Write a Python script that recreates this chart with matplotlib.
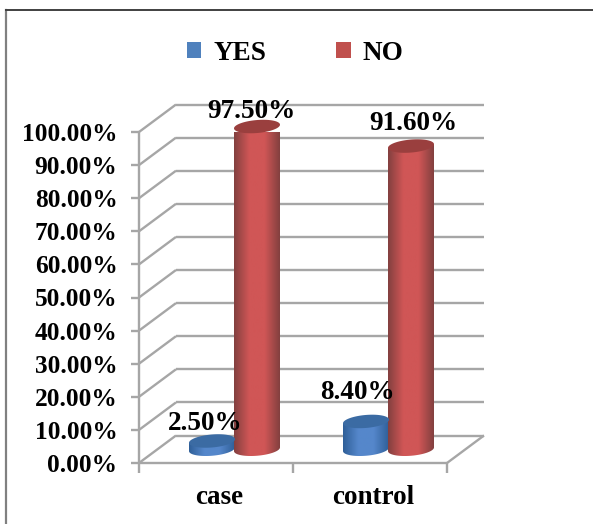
import matplotlib
matplotlib.use("Agg")
import matplotlib.pyplot as plt
from matplotlib.patches import Patch, PathPatch
from matplotlib.lines import Line2D
from matplotlib.path import Path
import matplotlib.colors as mcolors
import numpy as np

plt.rcParams["font.family"] = ["Liberation Serif", "DejaVu Serif"]
plt.rcParams["font.weight"] = "bold"

categories = ["case", "control"]
series_names = ["YES", "NO"]
yes_values = [2.5, 8.4]
no_values = [97.5, 91.6]
value_ticks = np.arange(0, 101, 10)

W, H = 593, 524
fig = plt.figure(figsize=(W / 100, H / 100), dpi=100, facecolor="white")

# axes box is the front face of the 3d-looking plot
ax = fig.add_axes([139 / W, (H - 463) / H, 308 / W, 331 / H])
ax.set_xlim(0, 2)
ax.set_ylim(0, 100)
ax.set_facecolor("none")
for s in ax.spines.values():
    s.set_visible(False)

GREY = "#a6a6a6"
# depth of the box and size of the cylinders, in data units
x_per_px = 2 / 308
y_per_px = 100 / 331
depth_x = 37 * x_per_px
depth_y = 27.5 * y_per_px
rx = 23 * x_per_px
ry = 6.5 * y_per_px
shear = 0.08 * (y_per_px / x_per_px)
bar_shift = 22.5 * x_per_px


def grid_line(xs, ys, lw=1.7):
    ax.plot(xs, ys, color=GREY, lw=lw, clip_on=False, solid_capstyle="butt", zorder=1)


# back wall and side wall lines
for v in value_ticks:
    grid_line([depth_x, 2 + depth_x], [v + depth_y, v + depth_y])
    grid_line([0, depth_x], [v, v + depth_y])

# floor and axis lines
grid_line([0, 2], [0, 0])
grid_line([2, 2 + depth_x], [0, depth_y])
grid_line([0, 0], [0, 100])

ax.set_xticks([0, 1, 2])
ax.set_xticklabels([])
ax.set_yticks(value_ticks)
ax.set_yticklabels([f"{v:.2f}%" for v in value_ticks], fontsize=18.3, fontweight="bold")
ax.tick_params(axis="y", length=6, width=1.7, color=GREY, pad=9.5)
ax.tick_params(axis="x", length=7, width=1.7, color=GREY)

for i, name in enumerate(categories):
    ax.annotate(name, (i + 0.5, 0), xytext=(2, -25), textcoords="offset points",
                ha="center", va="center", fontsize=19.5, fontweight="bold",
                annotation_clip=False)


def cylinder(cx, base, value, edge, mid, top):
    cmap = mcolors.LinearSegmentedColormap.from_list(
        "c", [edge, mid, mid, edge], N=128)
    t = np.linspace(0, np.pi, 60)
    top_y = base + value
    # outline of the body: front of the base ellipse, then back up to the top
    bx = cx - rx * np.cos(t)
    by = base - ry * np.sin(t) + shear * (bx - cx)
    ux = bx[::-1]
    uy = top_y + shear * (ux - cx)
    verts = np.column_stack([np.r_[bx, ux], np.r_[by, uy]])
    body = PathPatch(Path(np.vstack([verts, verts[0]])), fc="none", ec="none",
                     transform=ax.transData)
    ax.add_patch(body)
    body.set_clip_on(False)
    grad = np.linspace(0, 1, 128).reshape(1, -1)
    im = ax.imshow(grad, extent=[cx - rx, cx + rx, base - 2 * ry, top_y + 2 * ry],
                   cmap=cmap, aspect="auto", zorder=3, interpolation="bilinear")
    im.set_clip_path(body)
    # top ellipse
    t2 = np.linspace(0, 2 * np.pi, 100)
    ex = cx + rx * np.cos(t2)
    ey = top_y + ry * np.sin(t2) + shear * (ex - cx)
    ax.fill(ex, ey, color=top, zorder=4, clip_on=False, lw=0)


BLUE = ("#2f5f98", "#5587cb", "#3b6ba3")
RED = ("#83403f", "#d05656", "#9a3f3e")
floor_y = depth_y / 2
for i in range(len(categories)):
    centre = i + 0.5 + depth_x / 2
    cylinder(centre - bar_shift, floor_y, yes_values[i], *BLUE)
    cylinder(centre + bar_shift, floor_y, no_values[i], *RED)
ax.set_xlim(0, 2)
ax.set_ylim(0, 100)

# data labels sit at hand-picked offsets (in points) from the top of each bar
label_offsets = {
    "YES": [(-5, 12.5), (-6, 21)],
    "NO": [(-4, 10.5), (2, 16.5)],
}
for name, values, shift in ((series_names[0], yes_values, -bar_shift),
                            (series_names[1], no_values, bar_shift)):
    for i, v in enumerate(values):
        cx = i + 0.5 + depth_x / 2 + shift
        ax.annotate(f"{v:.2f}%", (cx, floor_y + v), xytext=label_offsets[name][i],
                    textcoords="offset points", ha="center", va="center",
                    fontsize=19.5, fontweight="bold", zorder=6, annotation_clip=False)

handles = [Patch(fc="#4f81bd", ec="none"), Patch(fc="#c0504d", ec="none")]
fig.legend(handles, series_names, ncol=2, frameon=False, fontsize=19.5,
           loc="center", bbox_to_anchor=(295 / W, 1 - 53 / H),
           handlelength=0.55, handleheight=0.55, handletextpad=0.43, columnspacing=2.59)

# chart border: only the top and left edges show
fig.add_artist(Line2D([6 / W, 6 / W], [0, 1 - 10 / H], color="#808080",
                      lw=1.6, transform=fig.transFigure))
fig.add_artist(Line2D([6 / W, 1], [1 - 9.5 / H, 1 - 9.5 / H], color="#404040",
                      lw=1.4, transform=fig.transFigure))

fig.savefig("out.png", dpi=100)
